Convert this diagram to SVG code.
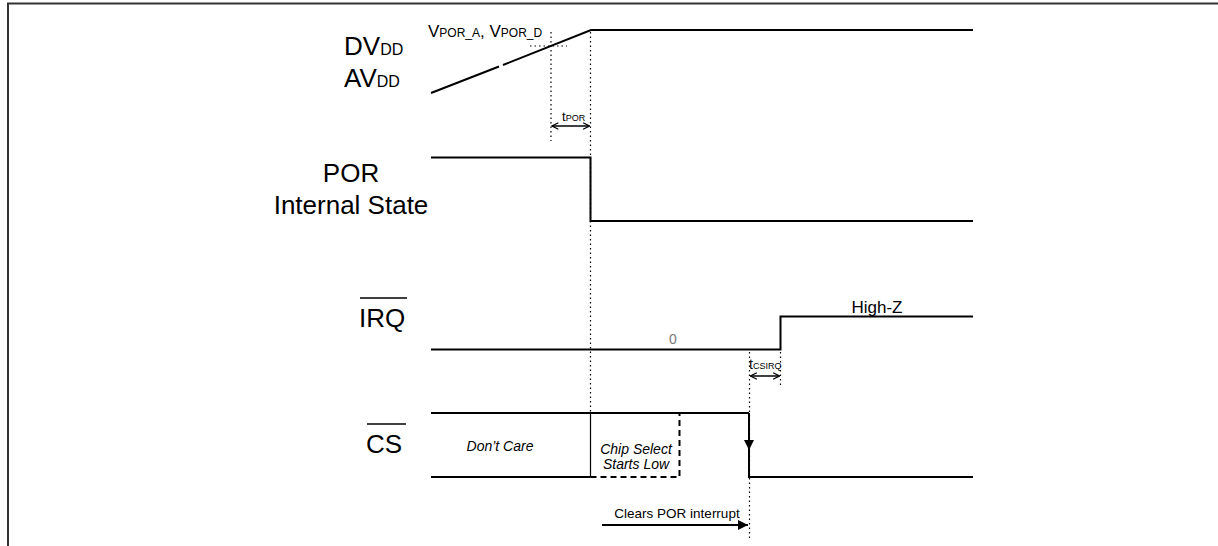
<svg xmlns="http://www.w3.org/2000/svg" width="1218" height="546" viewBox="0 0 1218 546">
<style>
.sig{fill:none;stroke:#000;stroke-width:2}
.thin{fill:none;stroke:#000;stroke-width:1.2}
.dot{fill:none;stroke:#000;stroke-width:1.2;stroke-dasharray:1.5 3}
.dash{fill:none;stroke:#000;stroke-width:2;stroke-dasharray:6 4}
.lbl{font-family:"Liberation Sans",Arial,sans-serif;font-size:26px;fill:#000}
.sm{font-family:"Liberation Sans",Arial,sans-serif;fill:#000}
.it{font-family:"Liberation Sans",Arial,sans-serif;font-style:italic;font-size:14px;fill:#000}
</style>
<defs>
<marker id="open" viewBox="0 0 10 10" refX="9" refY="5" markerWidth="8" markerHeight="8" orient="auto-start-reverse" markerUnits="userSpaceOnUse">
<path d="M1,1 L9,5 L1,9" fill="none" stroke="#000" stroke-width="1.5"/>
</marker>
<marker id="fill" viewBox="0 0 10 10" refX="10" refY="5" markerWidth="11" markerHeight="10" orient="auto" markerUnits="userSpaceOnUse">
<path d="M0,0 L10,5 L0,10 Z" fill="#000"/>
</marker>
</defs>
<rect width="1218" height="546" fill="#fff"/>
<g id="frame">
<path d="M7,3.5 H1218 M8,3 V546" fill="none" stroke="#333" stroke-width="2"/>
</g>
<g id="label-vdd">
<text class="lbl" x="344" y="55">DV<tspan font-size="16">DD</tspan></text>
<text class="lbl" x="344" y="87">AV<tspan font-size="16">DD</tspan></text>
</g>
<g id="label-por">
<text class="lbl" x="351" y="182" text-anchor="middle">POR</text>
<text class="lbl" x="351" y="214" text-anchor="middle">Internal State</text>
</g>
<g id="label-irq">
<text class="lbl" x="359" y="327">IRQ</text>
<line x1="360" y1="298" x2="407" y2="298" stroke="#000" stroke-width="1.5"/>
</g>
<g id="label-cs">
<text class="lbl" x="366" y="453">CS</text>
<line x1="367" y1="424" x2="406" y2="424" stroke="#000" stroke-width="1.5"/>
</g>
<g id="sig-vdd">
<path class="sig" d="M431,93 L499,66.5 M503,65 L591,30 H973"/>
<text class="sm" x="428" y="37" font-size="17">V<tspan font-size="12">POR_A</tspan>, V<tspan font-size="12">POR_D</tspan></text>
</g>
<g id="sig-por">
<path class="sig" d="M431,157.5 H590.5 V221 H973"/>
</g>
<g id="sig-irq">
<path class="sig" d="M431,349.5 H780.5 V316.5 H973"/>
<text class="sm" x="673" y="344" font-size="14" text-anchor="middle" style="fill:#777">0</text>
<text class="sm" x="877" y="313" font-size="17" text-anchor="middle">High-Z</text>
</g>
<g id="sig-cs">
<path class="sig" d="M431,413 H749 M431,477 H590.5 M749,413 V477 H973"/>
<path class="thin" d="M590.5,413 V477"/>
<path class="dash" d="M590.5,477 H679.5 V413"/>
<path d="M744,440 L754,440 L749,450 Z" fill="#000"/>
<text class="it" x="500" y="451" text-anchor="middle">Don’t Care</text>
<text class="it" x="636" y="454" text-anchor="middle">Chip Select</text>
<text class="it" x="636" y="469" text-anchor="middle">Starts Low</text>
</g>
<g id="connectors">
<path class="dot" d="M530,46 H567"/>
<path class="dot" d="M551,32 V141"/>
<path class="dot" d="M590.5,32 V413"/>
<path class="dot" d="M749.5,352 V540"/>
<path class="dot" d="M780.5,352 V386"/>
<line x1="552" y1="126" x2="589.5" y2="126" stroke="#000" stroke-width="1.5" marker-start="url(#open)" marker-end="url(#open)"/>
<text class="sm" x="562" y="121" font-size="13">t<tspan font-size="9">POR</tspan></text>
<line x1="750.5" y1="376" x2="779.5" y2="376" stroke="#000" stroke-width="1.5" marker-start="url(#open)" marker-end="url(#open)"/>
<text class="sm" x="749" y="369" font-size="14">t<tspan font-size="9">CSIRQ</tspan></text>
<line x1="602" y1="525" x2="748" y2="525" stroke="#000" stroke-width="2" marker-end="url(#fill)"/>
<text class="sm" x="677" y="518" font-size="13.5" text-anchor="middle">Clears POR interrupt</text>
</g>
</svg>
